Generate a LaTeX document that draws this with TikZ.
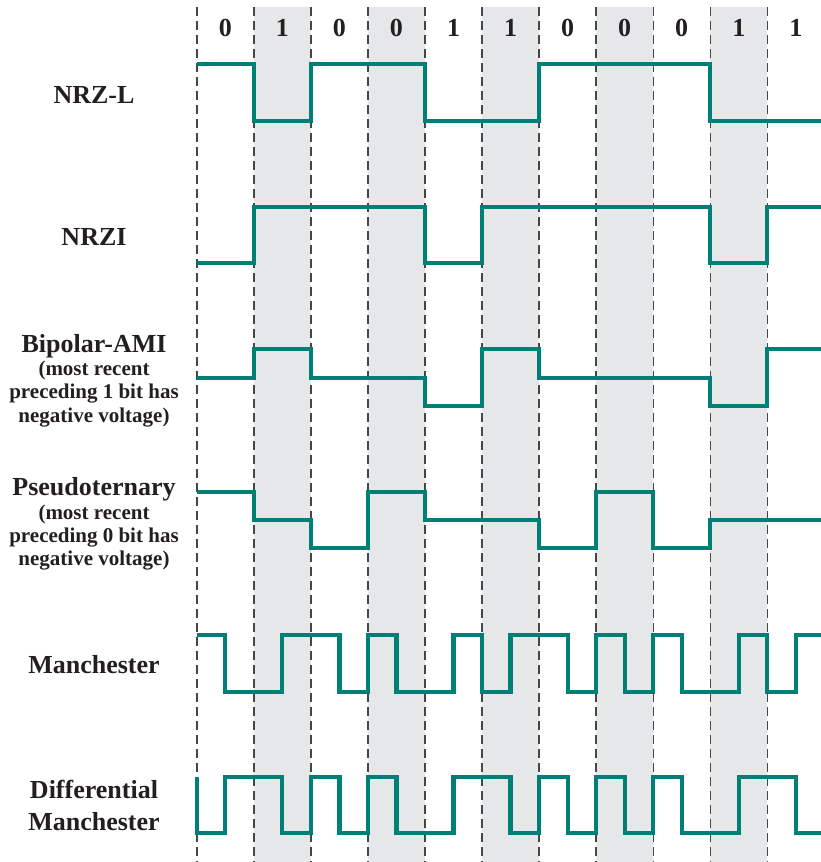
\documentclass[tikz,border=0pt]{standalone}
\usepackage{fontspec}
\setmainfont{Liberation Serif}
\definecolor{wavecol}{RGB}{0,127,118}
\definecolor{colshade}{RGB}{230,231,232}
\definecolor{ink}{RGB}{35,31,32}
\definecolor{dashcol}{RGB}{70,70,70}
\tikzset{
  wavel/.style={draw=wavecol, line width=4.2pt, line join=miter},
  bitsep/.style={draw=dashcol, line width=1.4pt, dash pattern=on 9pt off 5pt},
  bitlbl/.style={anchor=base, text=ink, font=\bfseries\fontsize{26}{28}\selectfont, inner sep=0pt},
  ttl/.style={anchor=base, text=ink, font=\bfseries\fontsize{26}{28}\selectfont, inner sep=0pt},
  subttl/.style={anchor=base, text=ink, font=\bfseries\fontsize{21}{23}\selectfont, inner sep=0pt}
}
\begin{document}
\begin{tikzpicture}[x=1pt,y=-1pt]
\useasboundingbox (0,0) rectangle (821,862);
\begin{scope}[xshift=196.8pt, x=57.05pt]
  % shaded bit columns
  \foreach \i in {1,3,5,7,9} {
    \fill[colshade] (\i,7) rectangle (\i+1,862);
  }
  % dashed bit separators
  \foreach \i in {0,...,10} {
    \draw[bitsep] (\i,7) -- (\i,862);
  }
  % bit labels
  \foreach \b [count=\k from 0] in {0,1,0,0,1,1,0,0,0,1,1} {
    \node[bitlbl] (bit\k) at (\k+0.5,36.7) {\b};
  }
  % NRZ-L
  \draw[wavel] (0,64)--(1,64)--(1,121)--(2,121)--(2,64)--(4,64)--(4,121)--(6,121)--(6,64)--(9,64)--(9,121)--(10.94,121);
  % NRZI
  \draw[wavel] (0,263.3)--(1,263.3)--(1,206.7)--(4,206.7)--(4,263.3)--(5,263.3)--(5,206.7)--(9,206.7)--(9,263.3)--(10,263.3)--(10,206.7)--(10.94,206.7);
  % Bipolar-AMI
  \draw[wavel] (0,377.7)--(1,377.7)--(1,349.3)--(2,349.3)--(2,377.7)--(4,377.7)--(4,406)--(5,406)--(5,349.3)--(6,349.3)--(6,377.7)--(9,377.7)--(9,406)--(10,406)--(10,349.3)--(10.94,349.3);
  % Pseudoternary
  \draw[wavel] (0,491.7)--(1,491.7)--(1,520)--(2,520)--(2,548.3)--(3,548.3)--(3,491.7)--(4,491.7)--(4,520)--(6,520)--(6,548.3)--(7,548.3)--(7,491.7)--(8,491.7)--(8,548.3)--(9,548.3)--(9,520)--(10.94,520);
  % Manchester
  \draw[wavel] (0,635)--(0.5,635)--(0.5,691.7)--(1.5,691.7)--(1.5,635)--(2.5,635)--(2.5,691.7)--(3,691.7)--(3,635)--(3.5,635)--(3.5,691.7)--(4.5,691.7)--(4.5,635)--(5,635)--(5,691.7)--(5.5,691.7)--(5.5,635)--(6.5,635)--(6.5,691.7)--(7,691.7)--(7,635)--(7.5,635)--(7.5,691.7)--(8,691.7)--(8,635)--(8.5,635)--(8.5,691.7)--(9.5,691.7)--(9.5,635)--(10,635)--(10,691.7)--(10.5,691.7)--(10.5,635)--(10.94,635);
  % Differential Manchester
  \draw[wavel] (0,776.7)--(0,833.3)--(0.5,833.3)--(0.5,776.7)--(1.5,776.7)--(1.5,833.3)--(2,833.3)--(2,776.7)--(2.5,776.7)--(2.5,833.3)--(3,833.3)--(3,776.7)--(3.5,776.7)--(3.5,833.3)--(4.5,833.3)--(4.5,776.7)--(5.5,776.7)--(5.5,833.3)--(6,833.3)--(6,776.7)--(6.5,776.7)--(6.5,833.3)--(7,833.3)--(7,776.7)--(7.5,776.7)--(7.5,833.3)--(8,833.3)--(8,776.7)--(8.5,776.7)--(8.5,833.3)--(9.5,833.3)--(9.5,776.7)--(10.5,776.7)--(10.5,833.3)--(10.94,833.3);
\end{scope}
% row labels
\node[ttl] (nrzl) at (94,103.3) {NRZ-L};
\node[ttl] (nrzi) at (94,245) {NRZI};
\node[ttl] (ami) at (94,352.3) {Bipolar-AMI};
\node[subttl] (ami1) at (94,375.5) {(most recent};
\node[subttl] (ami2) at (94,398.8) {preceding 1 bit has};
\node[subttl] (ami3) at (94,422) {negative voltage)};
\node[ttl] (pst) at (94,495) {Pseudoternary};
\node[subttl] (pst1) at (94,519) {(most recent};
\node[subttl] (pst2) at (94,542.3) {preceding 0 bit has};
\node[subttl] (pst3) at (94,565.6) {negative voltage)};
\node[ttl] (man) at (94,673.3) {Manchester};
\node[ttl] (dman1) at (94,798.3) {Differential};
\node[ttl] (dman2) at (94,830.7) {Manchester};
\end{tikzpicture}
\end{document}
